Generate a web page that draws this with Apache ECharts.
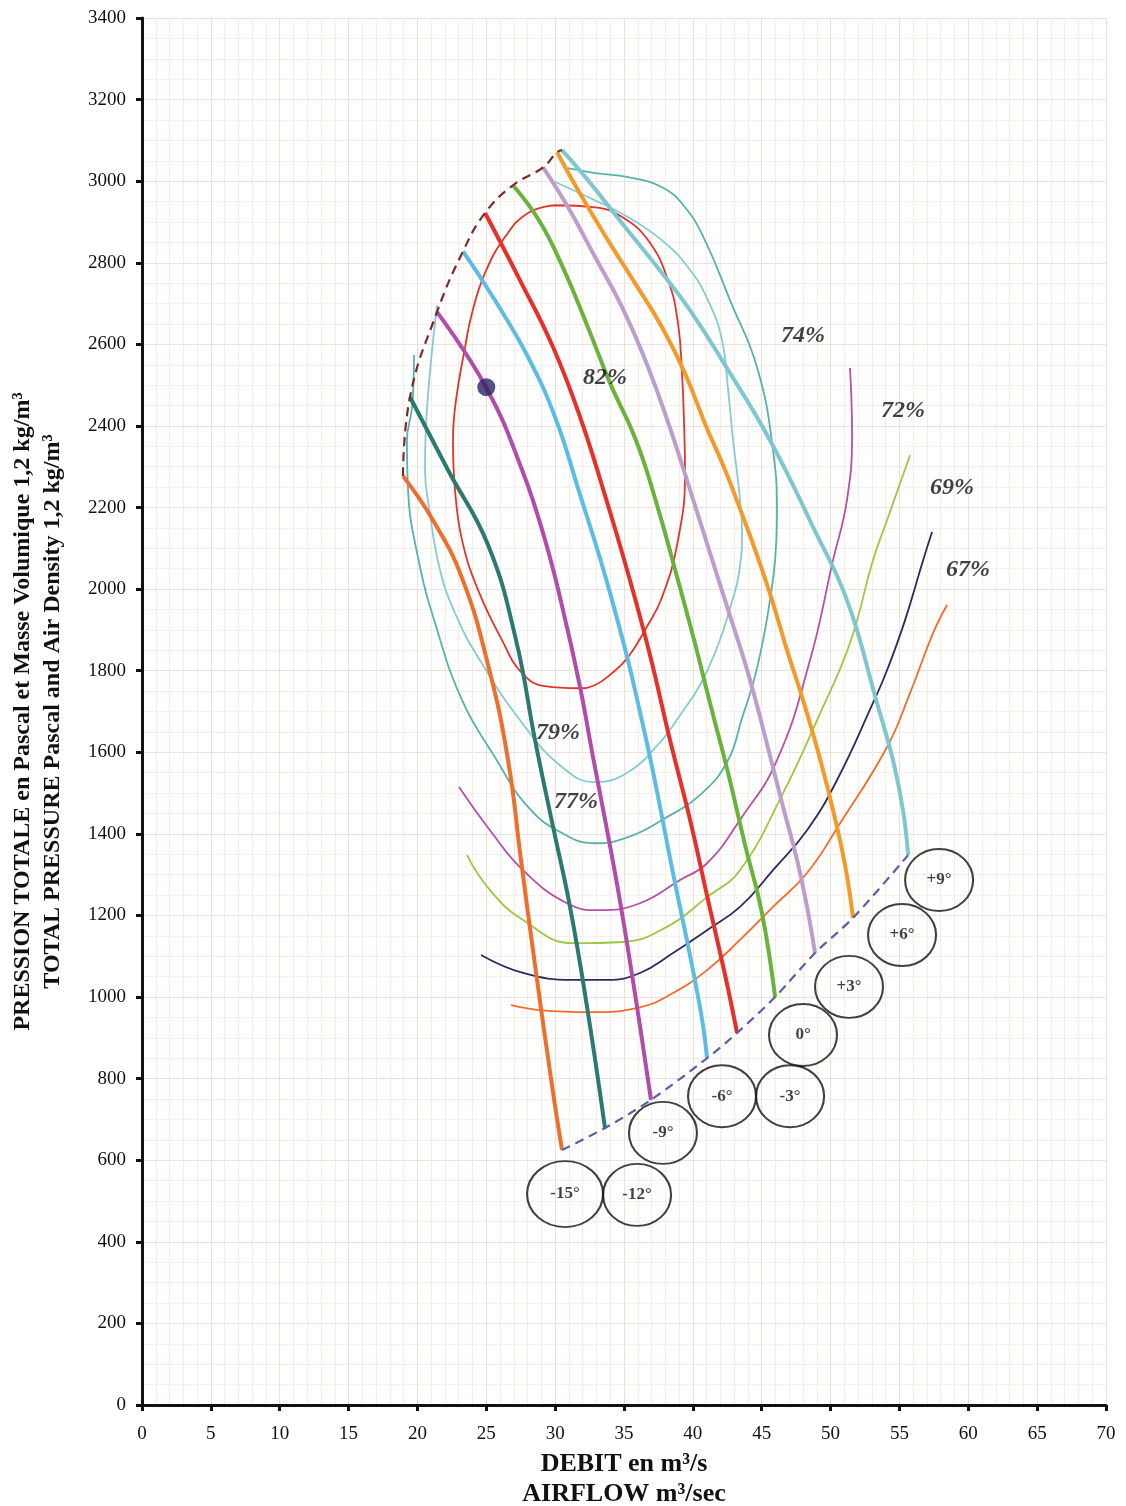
<!DOCTYPE html>
<html><head><meta charset="utf-8">
<script src="https://cdn.jsdelivr.net/npm/echarts@6/dist/echarts.min.js"></script>
<style>html,body{margin:0;padding:0;background:#fff;overflow:hidden}#c{width:1126px;height:1506px}</style>
</head><body><div id="c"></div>
<script>
// ---- axis ticks ----
const xTickStep = 5, xMin = 0, xMax = 70;
const yTickStep = 200, yMin = 0, yMax = 3400;

// ---- blade-angle curves [airflow m3/s, total pressure Pa] ----
const bladeNames = ['-15°','-12°','-9°','-6°','-3°','0°','+3°','+6°','+9°'];
const blade_m15 = [[18.95,2277],[21.13,2169],[23.24,2027],[25.13,1814],[26.58,1581],[27.52,1336],[28.54,1078],[29.77,784],[30.5,625]];
const blade_m12 = [[19.46,2471],[22.22,2292],[25.13,2108],[27.16,1875],[28.54,1630],[29.85,1417],[31.08,1221],[32.32,975],[33.62,679]];
const blade_m9  = [[21.42,2679],[24.98,2495],[27.6,2292],[29.27,2120],[30.57,1949],[31.81,1760],[32.75,1588],[33.77,1409],[34.78,1221],[35.95,975],[36.96,748]];
const blade_m6  = [[23.31,2828],[25.63,2708],[28.03,2569],[29.99,2422],[31.59,2255],[34.13,1973],[36.46,1654],[38.56,1304],[40.52,975],[41.03,850]];
const blade_m3  = [[24.91,2922],[27.45,2757],[29.85,2593],[31.81,2422],[33.62,2230],[35.29,2039],[36.89,1838],[38.34,1630],[39.8,1434],[41.1,1238],[42.34,1054],[43.21,912]];
const blade_0   = [[26.94,2990],[28.9,2900],[30.65,2782],[32.32,2647],[33.99,2505],[35.87,2365],[37.4,2206],[38.78,2039],[40.09,1875],[41.32,1711],[42.56,1549],[43.79,1373],[45.02,1206],[45.97,1000]];
const blade_p3  = [[29.12,3034],[30.94,2936],[32.9,2814],[34.86,2691],[36.75,2544],[38.34,2395],[39.8,2243],[41.25,2088],[42.56,1949],[44.01,1794],[45.31,1630],[46.55,1466],[47.57,1336],[48.29,1221],[48.87,1108]];
const blade_p6  = [[30.14,3071],[31.95,2961],[33.84,2855],[35.8,2750],[37.76,2642],[39.43,2529],[40.95,2400],[42.34,2292],[43.5,2190],[44.66,2083],[45.75,1973],[46.84,1850],[48.0,1728],[49.16,1593],[50.18,1458],[51.05,1324],[51.63,1194]];
const blade_p9  = [[30.5,3076],[32.39,3002],[34.86,2897],[37.76,2775],[39.79,2684],[42.34,2549],[45.6,2365],[48.73,2152],[51.19,1973],[53.37,1721],[54.53,1581],[55.26,1458],[55.63,1348]];

// ---- efficiency contours ----
const eff82 = [[29.99,2941],[32.9,2936],[34.86,2912],[36.75,2855],[38.2,2757],[38.92,2652],[39.21,2529],[39.36,2407],[39.43,2284],[38.92,2120],[37.76,1980],[36.53,1900],[35.29,1833],[34.13,1794],[32.9,1765],[31.66,1757],[29.27,1762],[27.6,1794],[26.14,1875],[24.4,1998],[23.24,2120],[22.73,2243],[22.58,2365],[22.8,2463],[23.46,2593],[23.96,2676],[24.91,2775],[26.36,2863],[28.03,2922],[29.99,2941]];
const eff79 = [[29.99,2998],[32.9,2953],[35.29,2912],[37.76,2855],[39.65,2789],[41.1,2708],[42.12,2610],[42.56,2488],[42.92,2365],[43.35,2243],[43.57,2145],[43.35,2039],[42.77,1961],[41.83,1863],[40.52,1765],[39.07,1691],[37.76,1630],[35.29,1551],[32.9,1527],[30.5,1564],[27.6,1672],[24.4,1833],[22.8,1936],[21.64,2047],[20.84,2201],[20.55,2292],[20.7,2446],[21.42,2696]];
const eff77 = [[30.93,3032],[32.9,3020],[35.29,3010],[37.76,2985],[39.43,2936],[40.88,2855],[42.7,2708],[44.66,2544],[45.82,2341],[46.11,2176],[45.97,2071],[45.6,1973],[45.1,1875],[44.44,1777],[43.57,1684],[42.56,1581],[40.67,1500],[37.76,1434],[35.29,1392],[32.9,1377],[30.5,1402],[28.03,1466],[25.63,1588],[23.24,1728],[21.28,1917],[20.04,2078],[19.32,2243],[19.24,2365],[19.61,2446],[19.75,2574]];
const eff74 = [[23.02,1515],[25.27,1409],[27.67,1311],[30.86,1230],[33.26,1213],[36.16,1230],[39.07,1287],[41.03,1328],[43.42,1434],[46.11,1581],[48.51,1826],[50.18,2071],[51.19,2218],[51.56,2382],[51.41,2542]];
const eff72 = [[23.6,1348],[25.27,1262],[27.67,1189],[31.3,1132],[34.93,1135],[38.12,1172],[41.03,1245],[43.42,1311],[46.55,1500],[49.02,1679],[51.41,1868],[53.08,2071],[54.1,2169],[55.77,2328]];
const eff69 = [[24.62,1103],[27.67,1059],[31.3,1042],[33.77,1042],[36.16,1059],[38.56,1108],[41.03,1164],[43.42,1221],[45.82,1311],[48.29,1409],[50.47,1532],[53.08,1721],[54.1,1801],[55.41,1924],[56.72,2071],[57.37,2140]];
const eff67 = [[26.8,980],[28.9,968],[32.53,963],[36.16,975],[38.56,1010],[41.03,1066],[43.42,1140],[45.82,1221],[48.29,1304],[50.69,1426],[54.1,1613],[55.77,1745],[57.44,1892],[58.46,1961]];

// ---- annotations (anchors in data units) ----
const effNames = ['82%','79%','77%','74%','72%','69%','67%'];
const effLabelAt = [[33.62,2517],[30.21,1647],[31.52,1478],[48.0,2620],[55.26,2436],[58.82,2248],[59.98,2047]];
const bladeLabelAt = [[30.72,517],[35.95,515],[37.83,667],[42.12,757],[47.06,757],[48.0,907],[51.34,1025],[55.19,1152],[57.88,1287]];
const dutyPoint = [25.0, 2495];

const bladeData = [blade_m15, blade_m12, blade_m9, blade_m6, blade_m3, blade_0, blade_p3, blade_p6, blade_p9];
const bladeColors = ['#EE6E2D','#2B7A6F','#B14DA8','#5BBCE4','#E4312A','#6AB23C','#BC9DCB','#F39A2B','#7EC7CF'];
const effData = [eff82, eff79, eff77, eff74, eff72, eff69, eff67];
const effColors = ['#E4332B','#86CBD2','#55B3AF','#B64FA8','#9CC83E','#2B2A62','#F26B2A'];

const serif = '"Liberation Serif", "DejaVu Serif", serif';
const series = [];
effData.forEach((d, i) => series.push({
  type: 'line', data: d, showSymbol: false, symbol: 'none', smooth: 0.45, z: 2, silent: true,
  lineStyle: { color: effColors[i], width: 1.8 }
}));
bladeData.forEach((d, i) => series.push({
  type: 'line', name: bladeNames[i], data: d, showSymbol: false, symbol: 'none', smooth: 0.45, z: 3, silent: true,
  lineStyle: { color: bladeColors[i], width: 4 }
}));
// surge line through the first point of each blade curve
series.push({ type: 'line', data: bladeData.map(d => d[0]), showSymbol: false, symbol: 'none', smooth: 0.45, z: 4, silent: true,
  lineStyle: { color: '#7A2C2C', width: 2.2, type: [9, 6] } });
// end line through the last point of each blade curve
series.push({ type: 'line', data: bladeData.map(d => d[d.length - 1]), showSymbol: false, symbol: 'none', smooth: 0.3, z: 4, silent: true,
  lineStyle: { color: '#5A5EA8', width: 2.2, type: [9, 6] } });
// duty point
series.push({ type: 'scatter', data: [dutyPoint], symbolSize: 18, z: 6, silent: true, itemStyle: { color: '#2B2363' } });
// efficiency labels
series.push({ type: 'scatter', symbolSize: 0, z: 6, silent: true,
  data: effLabelAt.map((p, i) => ({ value: p, name: effNames[i] })),
  label: { show: true, position: 'inside', formatter: '{b}', fontFamily: serif, fontStyle: 'italic', fontWeight: 'bold', fontSize: 24, color: '#111' } });
// blade-angle circle labels
series.push({ type: 'scatter', z: 6, silent: true,
  data: bladeLabelAt.map((p, i) => ({ value: p, name: bladeNames[i], symbolSize: i === 0 ? [76, 66] : [68, 62] })),
  symbol: 'circle',
  itemStyle: { color: 'rgba(255,255,255,0)', borderColor: '#111', borderWidth: 2 },
  label: { show: true, position: 'inside', formatter: '{b}', fontFamily: serif, fontWeight: 'bold', fontSize: 17, color: '#111' } });

const chart = echarts.init(document.getElementById('c'), null, { renderer: 'canvas' });
chart.setOption({
  animation: false,
  backgroundColor: '#fff',
  grid: { left: 142, right: 20, top: 18, bottom: 101, containLabel: false, outerBoundsMode: 'none' },
  xAxis: {
    type: 'value', min: xMin, max: xMax, interval: xTickStep,
    name: 'DEBIT en m³/s\nAIRFLOW m³/sec', nameLocation: 'middle', nameGap: 42,
    nameTextStyle: { fontFamily: serif, fontWeight: 'bold', fontSize: 26, color: '#111', lineHeight: 30 },
    axisLine: { lineStyle: { color: '#111', width: 3 } },
    axisTick: { show: true, length: 6, lineStyle: { color: '#111', width: 3 } },
    axisLabel: { fontFamily: serif, fontSize: 19, color: '#111', margin: 20, formatter: v => String(v) },
    splitLine: { show: true, lineStyle: { color: '#F2DED2', width: 1 } },
    minorTick: { show: true, splitNumber: 5, length: 0 },
    minorSplitLine: { show: true, lineStyle: { color: '#F8EBE2', width: 1 } }
  },
  yAxis: {
    type: 'value', min: yMin, max: yMax, interval: yTickStep,
    name: 'PRESSION TOTALE en Pascal et Masse Volumique 1,2 kg/m³\nTOTAL PRESSURE Pascal and Air Density 1,2 kg/m³',
    nameLocation: 'middle', nameGap: 74, nameRotate: 90,
    nameTextStyle: { fontFamily: serif, fontWeight: 'bold', fontSize: 24, color: '#111', lineHeight: 30 },
    axisLine: { lineStyle: { color: '#111', width: 3 } },
    axisTick: { show: true, length: 6, lineStyle: { color: '#111', width: 3 } },
    axisLabel: { fontFamily: serif, fontSize: 19, color: '#111', margin: 16, formatter: v => String(v) },
    splitLine: { show: true, lineStyle: { color: '#EDE0DE', width: 1 } },
    minorTick: { show: true, splitNumber: 4, length: 0 },
    minorSplitLine: { show: true, lineStyle: { color: '#F8EFEA', width: 1 } }
  },
  series: series
});
</script></body></html>
